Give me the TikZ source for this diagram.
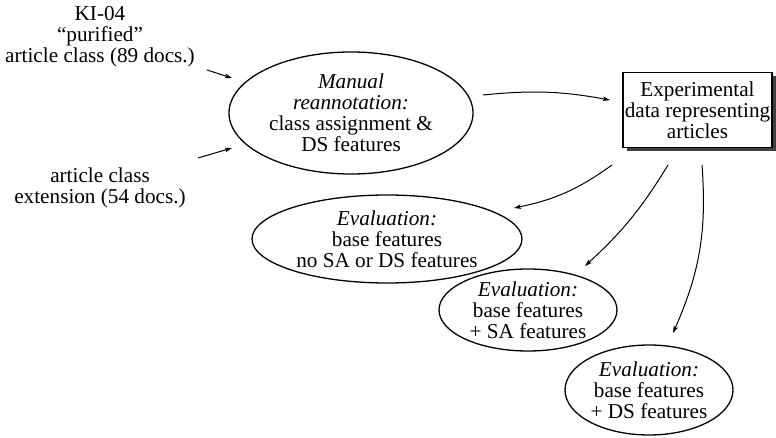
\documentclass[tikz,border=0pt]{standalone}
\usepackage{fontspec}
\setmainfont{Liberation Serif}
\usetikzlibrary{shapes.geometric,arrows.meta,shadows}
\begin{document}
\begin{tikzpicture}[x=1pt,y=1pt,
  every node/.style={font=\fontsize{21.2}{21}\selectfont, align=center, inner sep=0pt},
  ell/.style={draw, ellipse, line width=1.3pt},
  arr/.style={-{Stealth[length=7pt,width=4.5pt,inset=1.5pt]}, line width=1pt},
  boxst/.style={draw, line width=1.2pt, fill=white, rectangle,
    drop shadow={shadow xshift=4pt, shadow yshift=-4pt, fill=black!75, opacity=1}}
]
\useasboundingbox (0,0) rectangle (776,437);
\node (in1) at (100,400) {KI-04\\“purified”\\article class (89 docs.)};
\node (in2) at (100,249) {article class\\extension (54 docs.)};
\node[ell, minimum width=244pt, minimum height=122pt] (man) at (351,324)
  {\textit{Manual}\\\textit{reannotation:}\\class assignment \&\\DS features};
\node[boxst, minimum width=149pt, minimum height=75pt] (exp) at (697.5,327)
  {Experimental\\data representing\\articles};
\node[ell, minimum width=270pt, minimum height=88pt] (ev1) at (387,198)
  {\textit{Evaluation:}\\base features\\no SA or DS features};
\node[ell, minimum width=178pt, minimum height=82pt] (ev2) at (528,127)
  {\textit{Evaluation:}\\base features\\+ SA features};
\node[ell, minimum width=168pt, minimum height=90pt] (ev3) at (649,47)
  {\textit{Evaluation:}\\base features\\+ DS features};
\coordinate (s1) at (207,367);
\coordinate (t1) at (232,359);
\coordinate (s2) at (198,279);
\coordinate (t2) at (232,289);
\coordinate (s3) at (483,342);
\coordinate (t3) at (610,337);
\coordinate (s4) at (612,272);
\coordinate (t4) at (514,229);
\coordinate (s5) at (668,272);
\coordinate (t5) at (585,171);
\coordinate (s6) at (702,272);
\coordinate (t6) at (673,104);
\draw[arr] (s1) -- (t1);
\draw[arr] (s2) -- (t2);
\draw[arr] (s3) to[bend left=8] (t3);
\draw[arr] (s4) to[bend left=12] (t4);
\draw[arr] (s5) to[bend left=8] (t5);
\draw[arr] (s6) to[bend left=14] (t6);
\end{tikzpicture}
\end{document}
